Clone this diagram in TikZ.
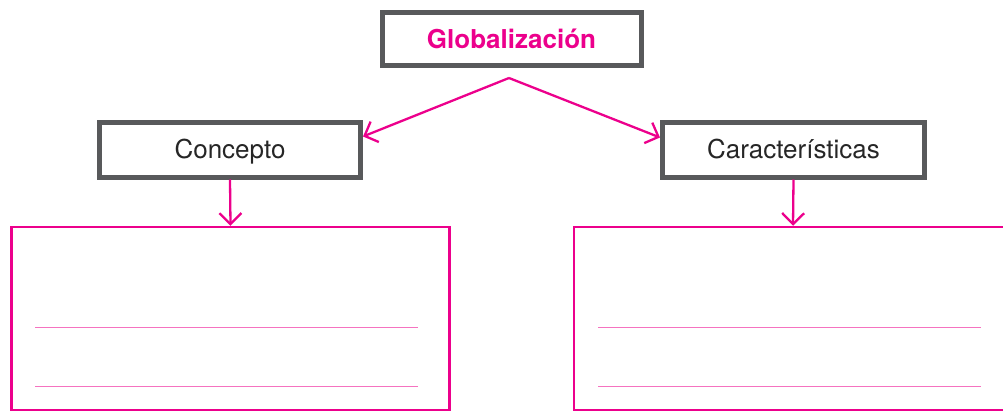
\documentclass[tikz,border=0pt]{standalone}
\usepackage{fontspec}
\setmainfont{TeX Gyre Heros}
\usetikzlibrary{arrows.meta}
\definecolor{globmag}{HTML}{EC008C}
\definecolor{globgray}{HTML}{58595B}
\tikzset{
  headb/.style={draw=globgray, fill=white, line width=5pt, align=center,
    inner sep=0pt, text=black!85, font=\fontsize{26}{30}\selectfont,
    text height=18.7pt, text depth=0pt},
  ansb/.style={draw=globmag, line width=2.5pt, inner sep=0pt,
    minimum width=438pt, minimum height=183pt},
  flow/.style={-{Straight Barb[length=11pt,width=22pt]}, line width=2.3pt, draw=globmag},
  rulel/.style={draw=globmag!55, line width=1pt},
}
\begin{document}
\begin{tikzpicture}[x=1pt,y=-1pt]
    \clip (0,0) rectangle (1003,412);
    % title
    \node[headb, minimum width=259pt, minimum height=53pt, text=globmag] (glob) at (511.5,39) {\textbf{Globalización}};
    % headings
    \node[headb, minimum width=261pt, minimum height=55pt] (concepto) at (230,149.5) {Concepto};
    \node[headb, minimum width=262pt, minimum height=55pt] (carac) at (793.5,149.5) {Características};
    % answer boxes
    \node[ansb] (conbox) at (230.5,318.5) {};
    \node[ansb] (carbox) at (793,318.5) {};
    \foreach \x in {35,598}
      \foreach \y in {327,386}
        \draw[rulel] (\x,\y) -- ++(383,0);
    % arrows
    \coordinate (fork) at (509,78);
    \draw[flow] (fork) -- ([yshift=13pt]concepto.east);
    \draw[flow] (fork) -- ([yshift=12pt]carac.west);
    \draw[flow] (concepto.south) -- (conbox.north);
    \draw[flow] (carac.south) -- (carbox.north);
\end{tikzpicture}
\end{document}
